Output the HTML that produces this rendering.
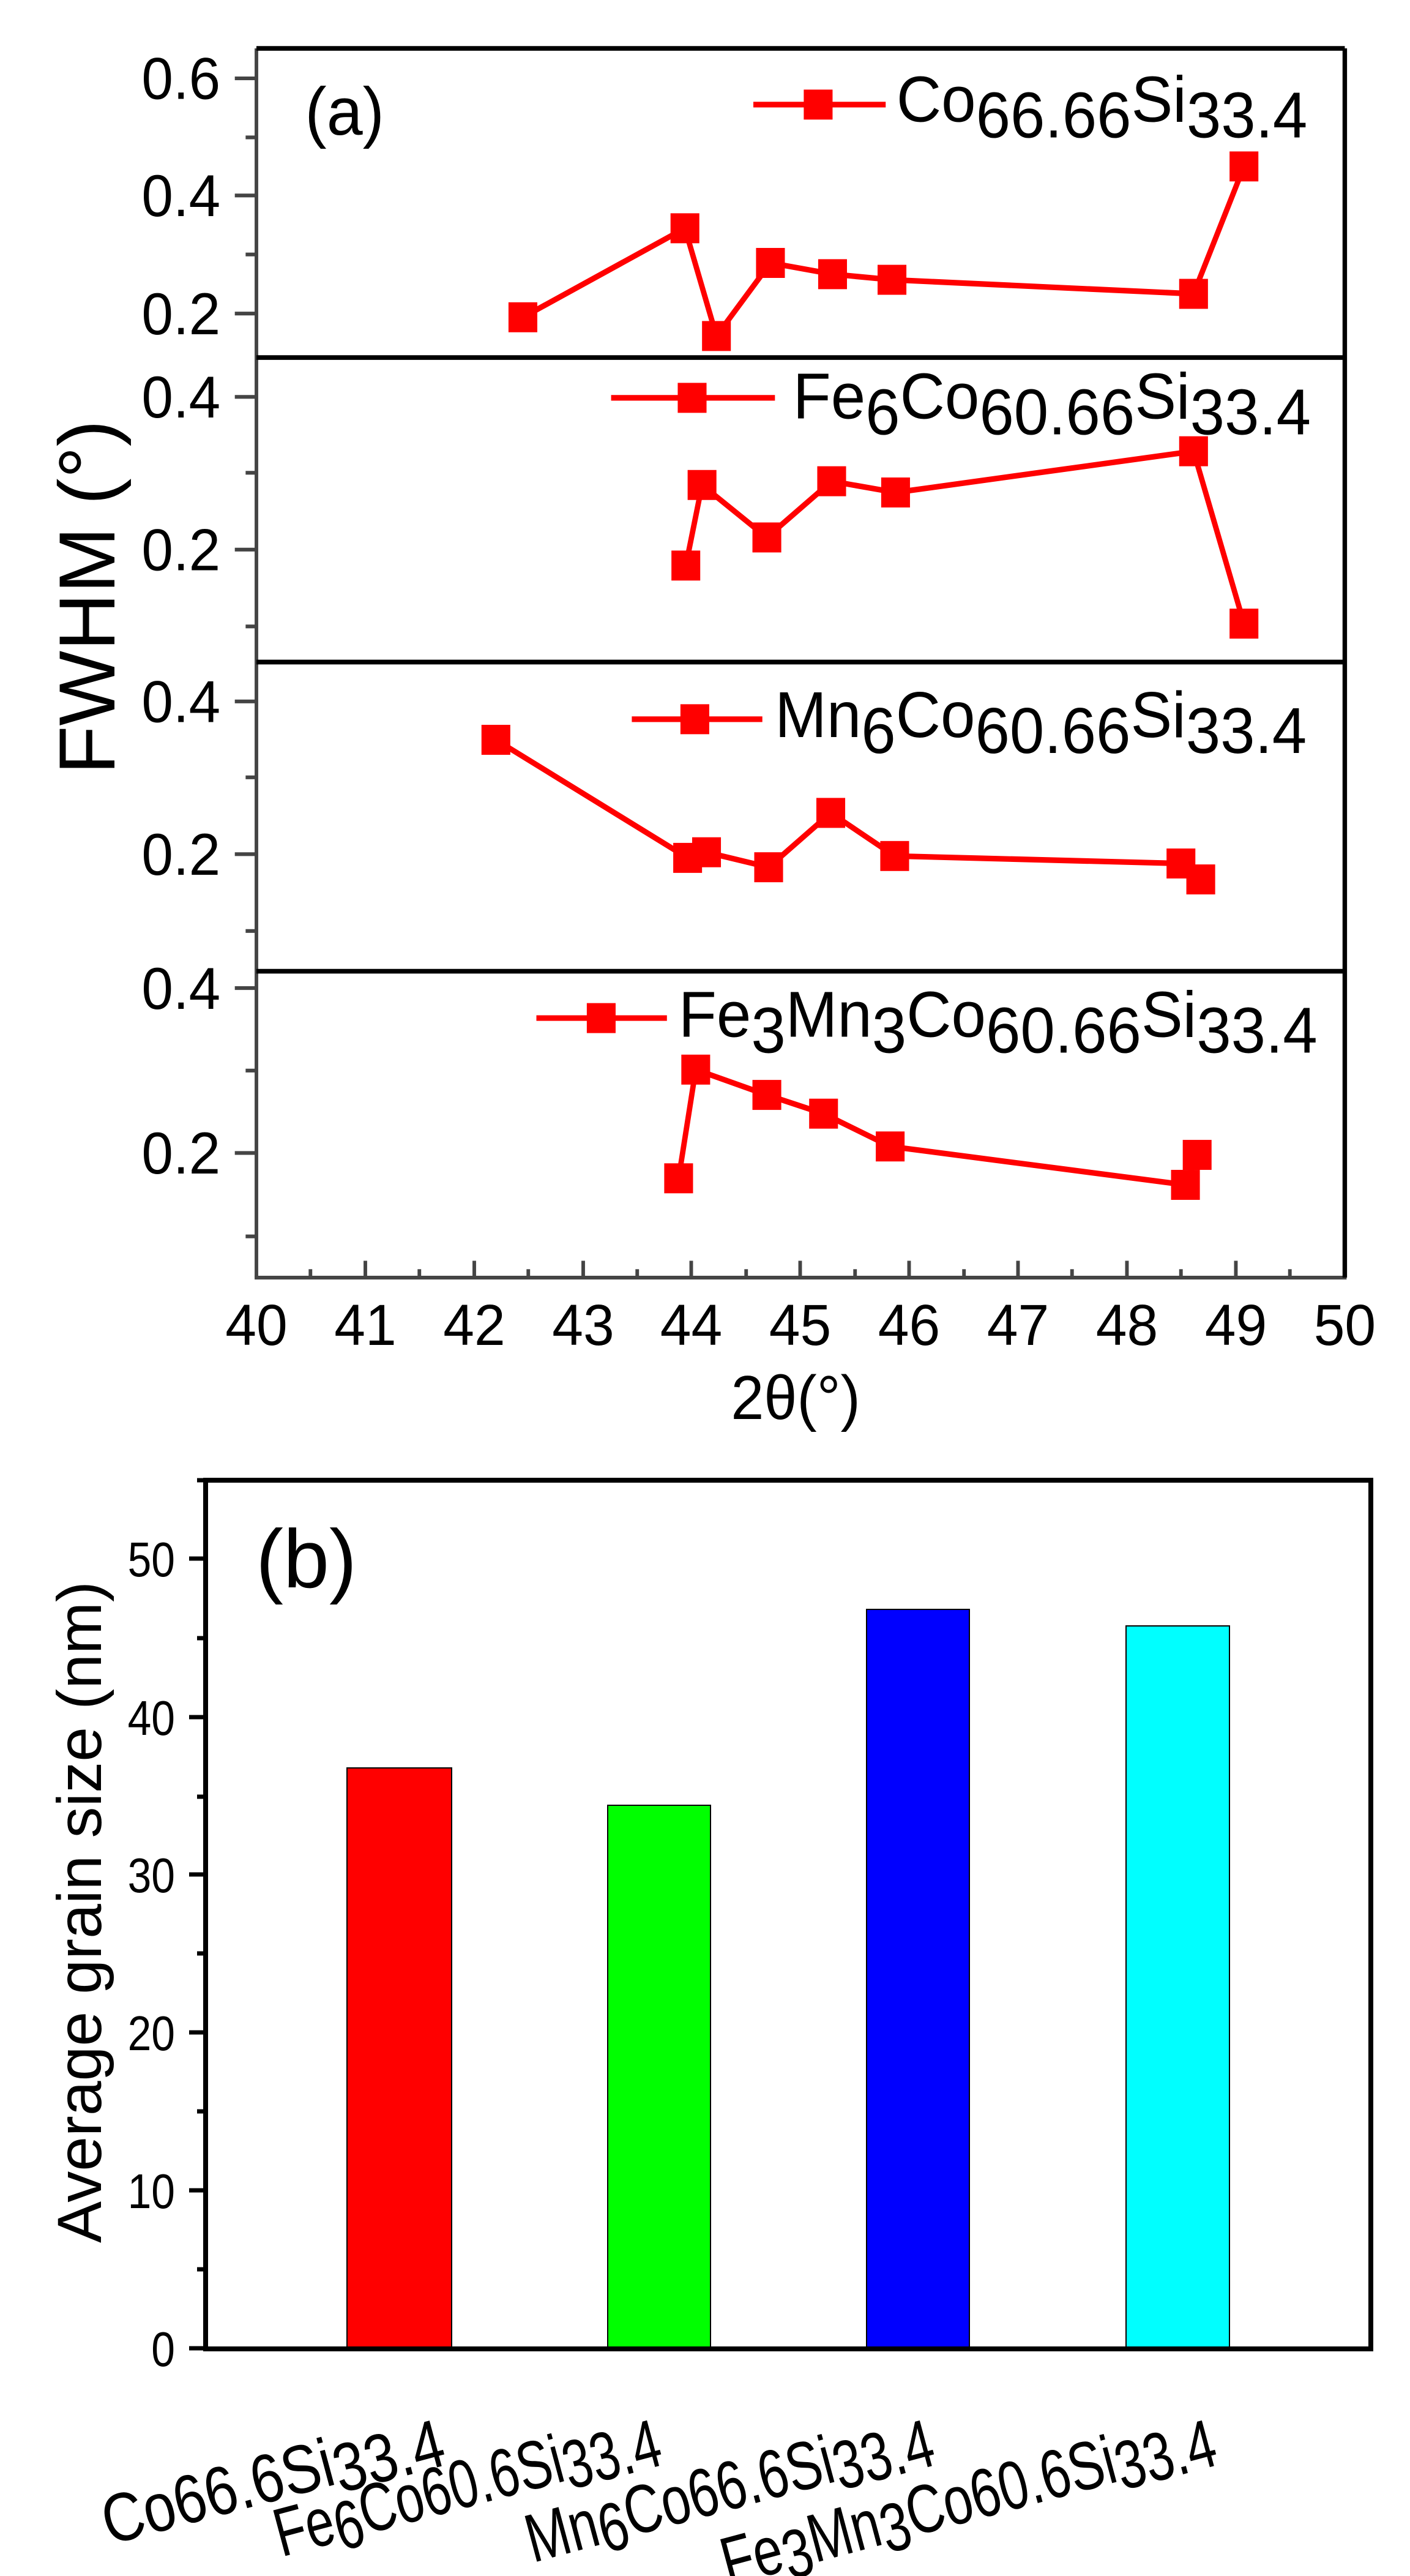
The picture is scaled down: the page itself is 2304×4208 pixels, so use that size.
<!DOCTYPE html>
<html><head><meta charset="utf-8"><style>html,body{margin:0;padding:0;background:#fff;overflow:hidden}svg{display:block}</style></head>
<body>
<svg width="2304" height="4208" viewBox="0 0 2304 4208" xmlns="http://www.w3.org/2000/svg" font-family="Liberation Sans, Arial, sans-serif">
<rect width="2304" height="4208" fill="#fff"/>
<g transform="matrix(1.471,0,0,1.5305,-1.7,2.5)">
<g stroke="#444" stroke-width="4">
<line x1="286" y1="50" x2="286" y2="1362"/>
<line x1="262" y1="82" x2="286" y2="82"/><line x1="262" y1="207" x2="286" y2="207"/><line x1="262" y1="333" x2="286" y2="333"/>
<line x1="274" y1="145" x2="286" y2="145"/><line x1="274" y1="270" x2="286" y2="270"/>
<line x1="262" y1="422" x2="286" y2="422"/><line x1="262" y1="585" x2="286" y2="585"/>
<line x1="274" y1="503" x2="286" y2="503"/><line x1="274" y1="667" x2="286" y2="667"/>
<line x1="262" y1="747" x2="286" y2="747"/><line x1="262" y1="910" x2="286" y2="910"/>
<line x1="274" y1="828" x2="286" y2="828"/><line x1="274" y1="992" x2="286" y2="992"/>
<line x1="262" y1="1053" x2="286" y2="1053"/><line x1="262" y1="1229" x2="286" y2="1229"/>
<line x1="274" y1="1141" x2="286" y2="1141"/><line x1="274" y1="1318" x2="286" y2="1318"/>
<line x1="407" y1="1362" x2="407" y2="1344"/><line x1="528" y1="1362" x2="528" y2="1344"/><line x1="649" y1="1362" x2="649" y2="1344"/><line x1="769" y1="1362" x2="769" y2="1344"/><line x1="890" y1="1362" x2="890" y2="1344"/><line x1="1011" y1="1362" x2="1011" y2="1344"/><line x1="1132" y1="1362" x2="1132" y2="1344"/><line x1="1253" y1="1362" x2="1253" y2="1344"/><line x1="1374" y1="1362" x2="1374" y2="1344"/>
<line x1="346" y1="1362" x2="346" y2="1353"/><line x1="467" y1="1362" x2="467" y2="1353"/><line x1="588" y1="1362" x2="588" y2="1353"/><line x1="709" y1="1362" x2="709" y2="1353"/><line x1="830" y1="1362" x2="830" y2="1353"/><line x1="951" y1="1362" x2="951" y2="1353"/><line x1="1072" y1="1362" x2="1072" y2="1353"/><line x1="1192" y1="1362" x2="1192" y2="1353"/><line x1="1313" y1="1362" x2="1313" y2="1353"/><line x1="1434" y1="1362" x2="1434" y2="1353"/>
<line x1="284" y1="1362" x2="1497" y2="1362"/>
</g>
<g fill="none" stroke="#000" stroke-width="5">
<line x1="286" y1="50" x2="1495" y2="50"/><line x1="1495" y1="50" x2="1495" y2="1362"/>
<line x1="286" y1="380" x2="1495" y2="380"/><line x1="286" y1="705" x2="1495" y2="705"/><line x1="286" y1="1035" x2="1495" y2="1035"/>
</g>
<g font-size="63" text-anchor="end" fill="#000">
<text x="246" y="104">0.6</text><text x="246" y="229">0.4</text><text x="246" y="355">0.2</text>
<text x="246" y="444">0.4</text><text x="246" y="607">0.2</text>
<text x="246" y="769">0.4</text><text x="246" y="932">0.2</text>
<text x="246" y="1075">0.4</text><text x="246" y="1251">0.2</text>
</g>
<g font-size="62" text-anchor="middle">
<text x="286" y="1434">40</text><text x="407" y="1434">41</text><text x="528" y="1434">42</text><text x="649" y="1434">43</text><text x="769" y="1434">44</text><text x="890" y="1434">45</text><text x="1011" y="1434">46</text><text x="1132" y="1434">47</text><text x="1253" y="1434">48</text><text x="1374" y="1434">49</text><text x="1495" y="1434">50</text>
</g>
<text x="885" y="1513" font-size="66" text-anchor="middle">2θ(°)</text>
<text x="340" y="142" font-size="72">(a)</text>
<g stroke="#f00" stroke-width="6" fill="none">
<polyline points="582,337 762,242 797,357 857,279 926,291 992,297 1327,312 1383,176"/>
<polyline points="763,602 781,516 853,572 925,512 996,524 1327,480 1383,664"/>
<polyline points="552,788 765,914 786,908 855,924 924,866 995,912 1313,920 1335,937"/>
<polyline points="755,1256 774,1140 853,1167 916,1187 990,1222 1318,1263 1331,1231"/>
<line x1="838" y1="110" x2="985" y2="110"/><line x1="680" y1="423" x2="862" y2="423"/><line x1="703" y1="766" x2="848" y2="766"/><line x1="597" y1="1085" x2="742" y2="1085"/>
</g>
<g fill="#f00">
<rect x="566" y="321" width="32" height="32"/><rect x="746" y="226" width="32" height="32"/><rect x="781" y="341" width="32" height="32"/><rect x="841" y="263" width="32" height="32"/><rect x="910" y="275" width="32" height="32"/><rect x="976" y="281" width="32" height="32"/><rect x="1311" y="296" width="32" height="32"/><rect x="1367" y="160" width="32" height="32"/>
<rect x="747" y="586" width="32" height="32"/><rect x="765" y="500" width="32" height="32"/><rect x="837" y="556" width="32" height="32"/><rect x="909" y="496" width="32" height="32"/><rect x="980" y="508" width="32" height="32"/><rect x="1311" y="464" width="32" height="32"/><rect x="1367" y="648" width="32" height="32"/>
<rect x="536" y="772" width="32" height="32"/><rect x="749" y="898" width="32" height="32"/><rect x="770" y="892" width="32" height="32"/><rect x="839" y="908" width="32" height="32"/><rect x="908" y="850" width="32" height="32"/><rect x="979" y="896" width="32" height="32"/><rect x="1297" y="904" width="32" height="32"/><rect x="1319" y="921" width="32" height="32"/>
<rect x="739" y="1240" width="32" height="32"/><rect x="758" y="1124" width="32" height="32"/><rect x="837" y="1151" width="32" height="32"/><rect x="900" y="1171" width="32" height="32"/><rect x="974" y="1206" width="32" height="32"/><rect x="1302" y="1247" width="32" height="32"/><rect x="1315" y="1215" width="32" height="32"/>
<rect x="894" y="94" width="32" height="32"/><rect x="754" y="407" width="32" height="32"/><rect x="757" y="750" width="32" height="32"/><rect x="653" y="1069" width="32" height="32"/>
</g>
<g font-size="69">
<text x="997" y="128">Co<tspan dy="17">66.66</tspan><tspan dy="-17">Si</tspan><tspan dy="17">33.4</tspan></text>
<text x="882" y="445">Fe<tspan dy="17">6</tspan><tspan dy="-17">Co</tspan><tspan dy="17">60.66</tspan><tspan dy="-17">Si</tspan><tspan dy="17">33.4</tspan></text>
<text x="862" y="785">Mn<tspan dy="17">6</tspan><tspan dy="-17">Co</tspan><tspan dy="17">60.66</tspan><tspan dy="-17">Si</tspan><tspan dy="17">33.4</tspan></text>
<text x="755" y="1105">Fe<tspan dy="17">3</tspan><tspan dy="-17">Mn</tspan><tspan dy="17">3</tspan><tspan dy="-17">Co</tspan><tspan dy="17">60.66</tspan><tspan dy="-17">Si</tspan><tspan dy="17">33.4</tspan></text>
</g>
</g>
<text transform="translate(187,1265) rotate(-90)" font-size="130">FWHM (°)</text>
<g stroke="#000" stroke-width="2">
<rect x="567" y="2888" width="171" height="949" fill="#f00"/>
<rect x="993" y="2949" width="168" height="888" fill="#0f0"/>
<rect x="1416" y="2629" width="168" height="1208" fill="#00f"/>
<rect x="1840" y="2656" width="169" height="1181" fill="#0ff"/>
</g>
<g stroke="#000" stroke-width="7">
<line x1="309" y1="3836" x2="336" y2="3836"/><line x1="309" y1="3578" x2="336" y2="3578"/><line x1="309" y1="3320" x2="336" y2="3320"/><line x1="309" y1="3062" x2="336" y2="3062"/><line x1="309" y1="2805" x2="336" y2="2805"/><line x1="309" y1="2546" x2="336" y2="2546"/>
<line x1="322" y1="3707" x2="336" y2="3707"/><line x1="322" y1="3449" x2="336" y2="3449"/><line x1="322" y1="3191" x2="336" y2="3191"/><line x1="322" y1="2935" x2="336" y2="2935"/><line x1="322" y1="2676" x2="336" y2="2676"/><line x1="322" y1="2418" x2="336" y2="2418"/>
</g>
<rect x="336" y="2418" width="1904" height="1419" fill="none" stroke="#000" stroke-width="8"/>
<g font-size="80" text-anchor="end">
<text transform="translate(286,3865) scale(0.87,1)">0</text>
<text transform="translate(286,3607) scale(0.87,1)">10</text>
<text transform="translate(286,3349) scale(0.87,1)">20</text>
<text transform="translate(286,3091) scale(0.87,1)">30</text>
<text transform="translate(286,2834) scale(0.87,1)">40</text>
<text transform="translate(286,2575) scale(0.87,1)">50</text>
</g>
<text transform="translate(165,3664) rotate(-90)" font-size="102">Average grain size (nm)</text>
<text x="418" y="2593" font-size="135">(b)</text>
<g font-size="112" text-anchor="end">
<text transform="translate(729,4010) rotate(-15) scale(0.84,1)">Co66.6Si<tspan dy="16">33.4</tspan></text>
<text transform="translate(1083,4010) rotate(-15) scale(0.74,1)">Fe<tspan dy="16">6</tspan><tspan dy="-16">Co60.6Si</tspan><tspan dy="16">33.4</tspan></text>
<text transform="translate(1529,4010) rotate(-15) scale(0.76,1)">Mn<tspan dy="16">6</tspan><tspan dy="-16">Co66.6Si</tspan><tspan dy="16">33.4</tspan></text>
<text transform="translate(1990,4010) rotate(-15) scale(0.76,1)">Fe<tspan dy="16">3</tspan><tspan dy="-16">Mn</tspan><tspan dy="16">3</tspan><tspan dy="-16">Co60.6Si</tspan><tspan dy="16">33.4</tspan></text>
</g>
</svg>
</body></html>
